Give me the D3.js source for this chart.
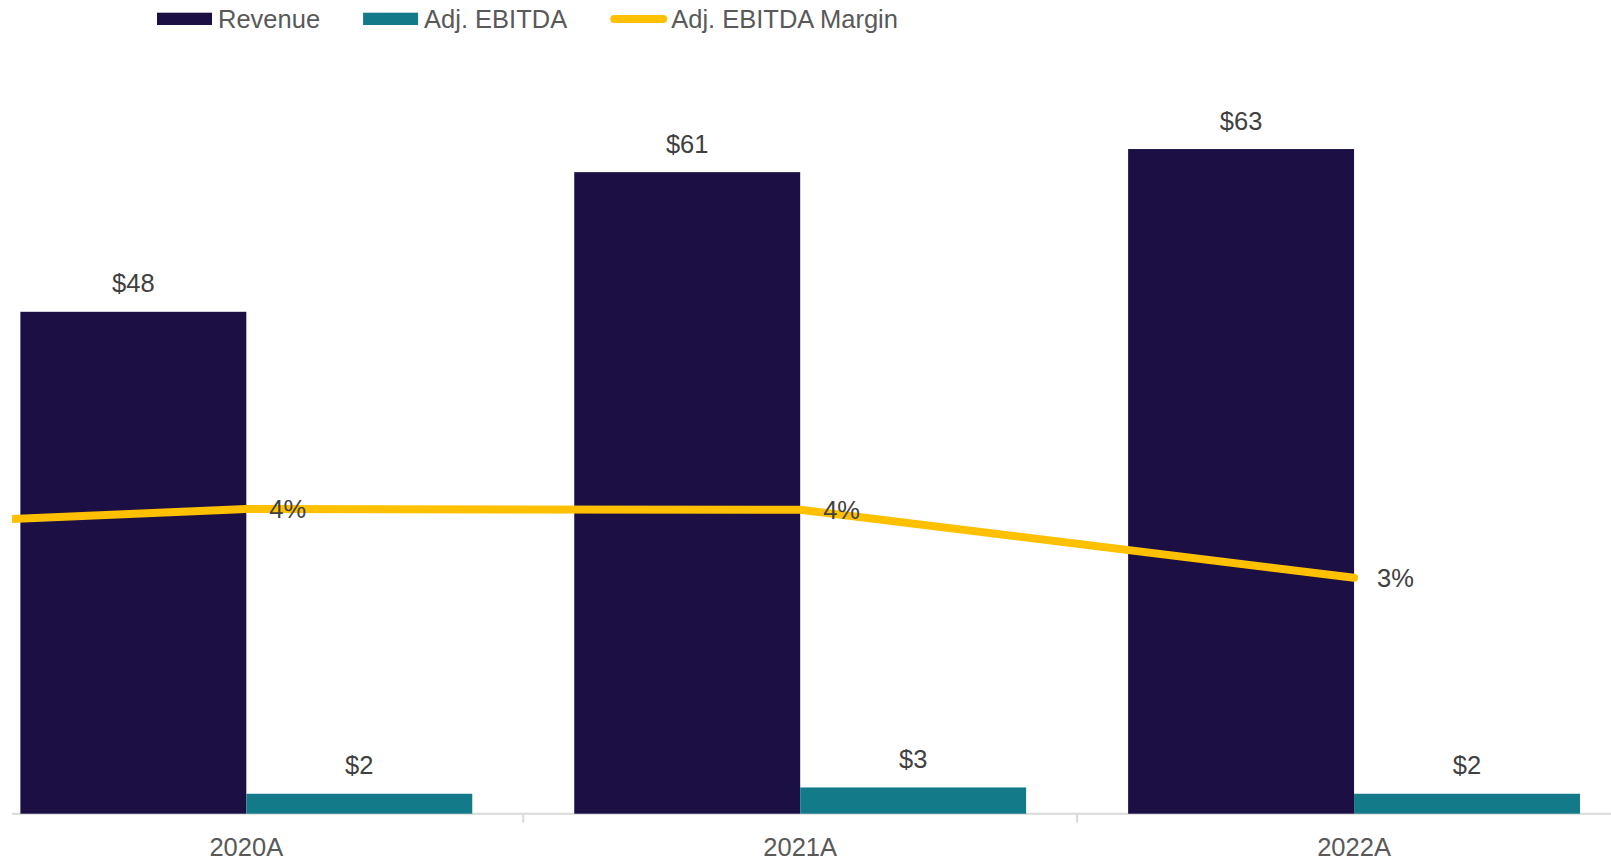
<!DOCTYPE html>
<html lang="en">
<head>
    <meta charset="UTF-8">
    <title>Revenue and Adj. EBITDA</title>
    <script src="https://cdn.jsdelivr.net/npm/d3@7"></script>
    <style>
        body{
            margin:0px;
            background:white;
        }
        text{
            font-family: Arial, "Liberation Sans", sans-serif;
        }
    </style>
</head>
<body>
    <svg id="chart"></svg>
</body>
<script>
    // data ($M) -- 2019A only feeds the margin line, which runs in from the left edge
    const categories = ["2019A", "2020A", "2021A", "2022A"];
    const revenue = [null, 47.8, 61.1, 63.3];
    const ebitda = [null, 1.9, 2.5, 1.9];
    const margin = [0.0372, 0.0403, 0.0402, 0.0312];
    const legendLabels = ["Revenue", "Adj. EBITDA", "Adj. EBITDA Margin"];

    const w = 1611, h = 861;
    const base = 813.7;
    const colRev = '#1c0f44', colEbitda = '#127a88', colMargin = '#ffc000';

    const svg = d3.select('#chart').attr('width', w).attr('height', h);

    svg.append('defs').append('clipPath').attr('id', 'plot')
        .append('rect').attr('x', 12).attr('y', 0).attr('width', w - 12).attr('height', h);

    // band per year, the 2019 band sits off the left of the picture
    const x = d3.scaleBand().domain(categories).range([-584.5, 1631]).paddingInner(0).paddingOuter(0);
    const inner = d3.scaleBand().domain(['rev', 'ebitda']).range([0, x.bandwidth()]).paddingInner(0).paddingOuter(0.2257);
    const y = d3.scaleLinear().domain([0, 72]).range([base, base - 756]);
    const y2 = d3.scaleLinear().domain([0, 0.10]).range([base, base - 756]);

    const rows = categories.map((c, i) => ({cat: c, rev: revenue[i], ebitda: ebitda[i], margin: margin[i]}));
    const barRows = rows.filter(d => d.rev != null);

    const g = svg.append('g').attr('clip-path', 'url(#plot)');

    // axis
    g.append('line')
        .attr('x1', 12).attr('x2', w).attr('y1', base).attr('y2', base)
        .attr('stroke', '#d9d9d9').attr('stroke-width', 2);
    g.selectAll('.tick').data(categories.slice(1)).join('line')
        .attr('class', 'tick')
        .attr('x1', d => x(d)).attr('x2', d => x(d))
        .attr('y1', base).attr('y2', base + 9)
        .attr('stroke', '#d9d9d9').attr('stroke-width', 2);

    // bars
    const series = [
        {key: 'rev', color: colRev},
        {key: 'ebitda', color: colEbitda}
    ];
    series.forEach(s => {
        g.selectAll('.bar-' + s.key).data(barRows).join('rect')
            .attr('class', 'bar-' + s.key)
            .attr('x', d => x(d.cat) + inner(s.key))
            .attr('width', inner.bandwidth())
            .attr('y', d => y(d[s.key]))
            .attr('height', d => base - y(d[s.key]))
            .attr('fill', s.color);
        svg.selectAll('.lbl-' + s.key).data(barRows).join('text')
            .attr('class', 'lbl-' + s.key)
            .attr('x', d => x(d.cat) + inner(s.key) + inner.bandwidth() / 2)
            .attr('y', d => y(d[s.key]) - 19.5)
            .attr('text-anchor', 'middle')
            .attr('font-size', '25.5px')
            .attr('fill', '#404040')
            .text(d => '$' + d3.format('.0f')(d[s.key]));
    });

    // margin line, points at the band centre
    const line = d3.line()
        .x(d => x(d.cat) + x.bandwidth() / 2)
        .y(d => y2(d.margin));
    g.append('path').datum(rows)
        .attr('d', line)
        .attr('fill', 'none')
        .attr('stroke', colMargin)
        .attr('stroke-width', 8)
        .attr('stroke-linejoin', 'round')
        .attr('stroke-linecap', 'round');

    svg.selectAll('.lbl-margin').data(barRows).join('text')
        .attr('class', 'lbl-margin')
        .attr('x', d => x(d.cat) + x.bandwidth() / 2 + 23)
        .attr('y', d => y2(d.margin))
        .attr('dy', '0.36em')
        .attr('font-size', '25.5px')
        .attr('fill', '#404040')
        .text(d => d3.format('.0%')(d.margin));

    // category labels
    svg.selectAll('.cat').data(categories.slice(1)).join('text')
        .attr('class', 'cat')
        .attr('x', d => x(d) + x.bandwidth() / 2)
        .attr('y', 856)
        .attr('text-anchor', 'middle')
        .attr('font-size', '25.5px')
        .attr('fill', '#595959')
        .text(d => d);

    // legend
    const leg = svg.append('g');
    let lx = 157;
    legendLabels.forEach((lab, i) => {
        if (i < 2) {
            leg.append('rect').attr('x', lx).attr('y', 12.7).attr('width', 55).attr('height', 12.3)
                .attr('fill', i == 0 ? colRev : colEbitda);
        } else {
            leg.append('line').attr('x1', lx + 4).attr('x2', lx + 53).attr('y1', 18.9).attr('y2', 18.9)
                .attr('stroke', colMargin).attr('stroke-width', 8).attr('stroke-linecap', 'round');
        }
        const t = leg.append('text')
            .attr('x', lx + 61).attr('y', 27.7)
            .attr('font-size', '25.5px')
            .attr('fill', '#595959')
            .text(lab);
        lx += 61 + t.node().getComputedTextLength() + 43;
    });
</script>
</html>
